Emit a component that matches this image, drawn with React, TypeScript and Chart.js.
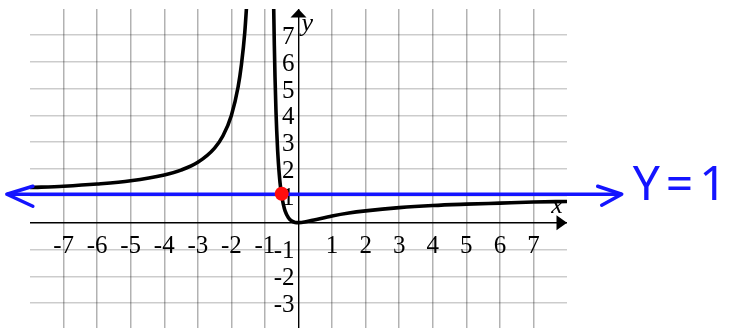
import React, { useEffect, useRef } from "react";
import { Chart, registerables } from "chart.js";

Chart.register(...registerables);

// Axis ranges (visible window)
const X_MIN = -8;
const X_MAX = 8;
const Y_MIN = -3.93;
const Y_MAX = 7.97;

// Tick labels
const xTickValues = [-7, -6, -5, -4, -3, -2, -1, 1, 2, 3, 4, 5, 6, 7];
const xTickLabels = ["-7", "-6", "-5", "-4", "-3", "-2", "-1", "1", "2", "3", "4", "5", "6", "7"];
const yTickValues = [-3, -2, -1, 1, 2, 3, 4, 5, 6, 7];
const yTickLabels = ["-3", "-2", "-1", "1", "2", "3", "4", "5", "6", "7"];

// Curve: left branch (left of the vertical asymptote)
const leftBranchX = [-8, -7, -6, -5, -4, -3.5, -3, -2.5, -2.25, -2, -1.8, -1.7, -1.6, -1.5];
const leftBranchY = [1.31, 1.36, 1.44, 1.56, 1.78, 1.96, 2.25, 2.78, 3.24, 4.0, 5.06, 5.9, 7.11, 9.0];

// Curve: right branch
const rightBranchX = [-0.74, -0.72, -0.7, -0.67, -0.65, -0.62, -0.6, -0.55, -0.5, -0.45, -0.4, -0.3, -0.2, -0.1, 0, 0.25, 0.5, 1, 1.5, 2, 3, 4, 5, 6, 7, 8];
const rightBranchY = [8.1, 6.61, 5.44, 4.12, 3.45, 2.66, 2.25, 1.49, 1.0, 0.67, 0.44, 0.18, 0.06, 0.01, 0, 0.04, 0.11, 0.25, 0.36, 0.44, 0.56, 0.64, 0.69, 0.73, 0.77, 0.79];

// Hand-drawn horizontal asymptote (blue, double arrow)
const asymptoteX = [-8.69, 9.63];
const asymptoteY = [1.06, 1.06];
const asymptoteLabel = "Y=1";

// Marked point (red)
const markedX = [-0.5];
const markedY = [1.08];

const toPoints = (xs: number[], ys: number[]) => xs.map((x, i) => ({ x, y: ys[i] }));

const overlayPlugin = {
  id: "overlay",
  beforeDatasetsDraw(chart: any) {
    const { ctx, scales } = chart;
    const xs = scales.x;
    const ys = scales.y;
    const x0 = xs.getPixelForValue(0);
    const y0 = ys.getPixelForValue(0);
    const yTop = ys.getPixelForValue(Y_MAX);
    const xRight = xs.getPixelForValue(X_MAX);
    ctx.save();
    ctx.fillStyle = "#000";
    // y axis arrow
    ctx.beginPath();
    ctx.moveTo(x0, yTop);
    ctx.lineTo(x0 - 8, yTop + 8.5);
    ctx.lineTo(x0 + 8, yTop + 8.5);
    ctx.closePath();
    ctx.fill();
    // x axis arrow
    ctx.beginPath();
    ctx.moveTo(xRight, y0);
    ctx.lineTo(xRight - 10.5, y0 - 7.5);
    ctx.lineTo(xRight - 10.5, y0 + 7.5);
    ctx.closePath();
    ctx.fill();
    // tick labels
    ctx.font = '25px "Liberation Serif", "Times New Roman", serif';
    ctx.textBaseline = "alphabetic";
    ctx.textAlign = "center";
    xTickValues.forEach((v, i) => {
      ctx.fillText(xTickLabels[i], xs.getPixelForValue(v), y0 + 30.5);
    });
    ctx.textAlign = "right";
    yTickValues.forEach((v, i) => {
      ctx.fillText(yTickLabels[i], x0 - 4, ys.getPixelForValue(v) + 9);
    });
    // axis names
    ctx.font = 'italic 26px "Liberation Serif", "Times New Roman", serif';
    ctx.textAlign = "left";
    ctx.fillText("y", x0 + 3, yTop + 22);
    ctx.textAlign = "center";
    ctx.fillText("x", xRight - 10, y0 - 10);
    ctx.restore();
  },
  afterDatasetsDraw(chart: any) {
    const { ctx, scales } = chart;
    const xs = scales.x;
    const ys = scales.y;
    const lx = xs.getPixelForValue(asymptoteX[0]);
    const ly = ys.getPixelForValue(asymptoteY[0]);
    const rx = xs.getPixelForValue(asymptoteX[1]);
    const ry = ys.getPixelForValue(asymptoteY[1]);
    ctx.save();
    ctx.strokeStyle = "#1414ff";
    ctx.lineWidth = 3.5;
    ctx.lineCap = "round";
    ctx.lineJoin = "round";
    ctx.beginPath();
    ctx.moveTo(lx + 26, ly - 8);
    ctx.lineTo(lx, ly);
    ctx.lineTo(lx + 26, ly + 12);
    ctx.stroke();
    ctx.beginPath();
    ctx.moveTo(rx - 24, ry - 8);
    ctx.lineTo(rx, ry);
    ctx.lineTo(rx - 20, ry + 11);
    ctx.stroke();
    // label
    ctx.fillStyle = "#1414ff";
    ctx.font = '48px "Noto Sans"';
    (ctx as any).letterSpacing = "6px";
    ctx.textAlign = "left";
    ctx.textBaseline = "alphabetic";
    ctx.fillText(asymptoteLabel, rx + 11, ry + 6);
    ctx.restore();
  },
};

export default function App() {
  const canvasRef = useRef<HTMLCanvasElement>(null);

  useEffect(() => {
    if (!canvasRef.current) return;
    const chart = new Chart(canvasRef.current, {
      type: "scatter",
      data: {
        datasets: [
          {
            label: "point",
            data: toPoints(markedX, markedY),
            showLine: false,
            pointRadius: 7,
            pointBackgroundColor: "#ff0d0d",
            pointBorderWidth: 0,
            backgroundColor: "#ff0d0d",
          },
          {
            label: "asymptote",
            data: toPoints(asymptoteX, asymptoteY),
            showLine: true,
            borderColor: "#1414ff",
            borderWidth: 3.5,
            pointRadius: 0,
            clip: false,
          },
          {
            label: "left",
            data: toPoints(leftBranchX, leftBranchY),
            showLine: true,
            borderColor: "#000",
            borderWidth: 3.6,
            pointRadius: 0,
            cubicInterpolationMode: "monotone",
          },
          {
            label: "right",
            data: toPoints(rightBranchX, rightBranchY),
            showLine: true,
            borderColor: "#000",
            borderWidth: 3.6,
            pointRadius: 0,
            cubicInterpolationMode: "monotone",
          },
        ],
      },
      options: {
        responsive: false,
        animation: false,
        devicePixelRatio: 1,
        layout: { autoPadding: false, padding: { left: 30, right: 169, top: 9, bottom: 0 } },
        plugins: { legend: { display: false }, tooltip: { enabled: false } },
        events: [],
        scales: {
          x: {
            type: "linear",
            min: X_MIN,
            max: X_MAX,
            afterFit: (s: any) => {
              s.height = 0;
            },
            ticks: { display: false, stepSize: 1, autoSkip: false, includeBounds: false },
            border: { display: false },
            grid: {
              drawTicks: false,
              color: (c: any) =>
                c.tick && c.tick.value === 0
                  ? "#000"
                  : c.tick && Math.abs(c.tick.value) === 8
                  ? "rgba(0,0,0,0)"
                  : "rgba(0,0,0,0.3)",
              lineWidth: (c: any) => (c.tick && c.tick.value === 0 ? 1.4 : 1.5),
            },
          },
          y: {
            type: "linear",
            min: Y_MIN,
            max: Y_MAX,
            afterFit: (s: any) => {
              s.width = 0;
            },
            ticks: { display: false, stepSize: 1, autoSkip: false, includeBounds: false },
            border: { display: false },
            grid: {
              drawTicks: false,
              color: (c: any) => (c.tick && c.tick.value === 0 ? "#000" : "rgba(0,0,0,0.2)"),
              lineWidth: (c: any) => (c.tick && c.tick.value === 0 ? 1.6 : 1.5),
            },
          },
        },
      } as any,
      plugins: [overlayPlugin],
    });
    return () => chart.destroy();
  }, []);

  return (
    <div style={{ position: "absolute", left: 0, top: 0, width: 736, height: 328, background: "#fff" }}>
      <canvas ref={canvasRef} width={736} height={328} style={{ display: "block" }} />
    </div>
  );
}
